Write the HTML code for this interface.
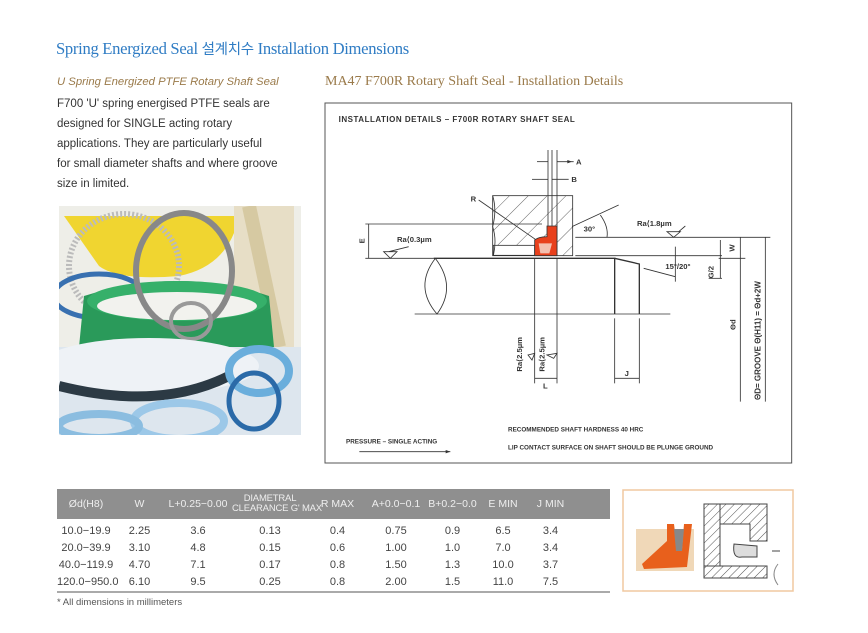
<!DOCTYPE html>
<html><head><meta charset="utf-8"><style>
body{margin:0;width:868px;height:633px;background:#fff;position:relative;overflow:hidden;font-family:"Liberation Sans","Noto Sans CJK KR",sans-serif}
.a{position:absolute;white-space:nowrap}
.p{font-size:11.5px;color:#333;left:57px}
table{border-collapse:collapse;table-layout:fixed}
td{padding:0}
</style></head><body>
<div class="a" style="left:56px;top:38px;font:16.6px 'Liberation Serif','Noto Serif CJK SC',serif;color:#2f7cc4;letter-spacing:-0.3px">Spring Energized Seal <span style="font-family:'Noto Sans CJK KR',sans-serif;font-size:14.5px">설계치수</span> Installation Dimensions</div>
<div class="a" style="left:57px;top:76px;font:italic 11.3px 'Liberation Sans',sans-serif;color:#9a7a4a">U Spring Energized PTFE Rotary Shaft Seal</div>
<div class="a p" style="top:98px">F700 'U' spring energised PTFE seals are</div>
<div class="a p" style="top:118px">designed for SINGLE acting rotary</div>
<div class="a p" style="top:138px">applications. They are particularly useful</div>
<div class="a p" style="top:158px">for small diameter shafts and where groove</div>
<div class="a p" style="top:178px">size in limited.</div>
<div class="a" style="left:325px;top:74px;font:14px 'Liberation Serif',serif;color:#9a7a4a">MA47 F700R Rotary Shaft Seal - Installation Details</div>

<svg class="a" style="left:59px;top:206px" width="242" height="229" viewBox="0 0 242 229">
<rect width="242" height="141" fill="#eeeee8"/>
<path d="M5 10 H180 Q170 60 120 70 Q60 75 40 60 Z" fill="#f0d530"/>
<ellipse cx="65" cy="60" rx="55" ry="52" fill="none" stroke="#bbb" stroke-width="6" stroke-dasharray="2 2"/>
<rect x="175" y="0" width="60" height="141" fill="#e7dec6"/>
<path d="M190 0 L220 141" stroke="#d6c9a2" stroke-width="14"/>
<ellipse cx="40" cy="90" rx="45" ry="22" fill="none" stroke="#3870b0" stroke-width="5"/>
<path d="M20 141 L25 90 Q120 60 210 90 L215 141 Z" fill="#2a9a5a"/>
<ellipse cx="118" cy="95" rx="90" ry="20" fill="#36b06a"/>
<ellipse cx="118" cy="100" rx="80" ry="14" fill="#f2f2ee"/>
<ellipse cx="125" cy="65" rx="48" ry="58" fill="none" stroke="#888" stroke-width="6"/>
<ellipse cx="132" cy="115" rx="20" ry="18" fill="none" stroke="#999" stroke-width="4"/>
<rect y="141" width="242" height="88" fill="#dde6ee"/>
<ellipse cx="90" cy="160" rx="110" ry="28" fill="#eef2f6"/>
<path d="M0 180 Q100 205 170 170" stroke="#2c3a44" stroke-width="10" fill="none"/>
<ellipse cx="200" cy="165" rx="30" ry="22" fill="none" stroke="#6aaedc" stroke-width="8"/>
<ellipse cx="195" cy="195" rx="25" ry="28" fill="none" stroke="#2a6aa8" stroke-width="5"/>
<ellipse cx="120" cy="215" rx="45" ry="18" fill="none" stroke="#9cc8e8" stroke-width="8"/>
<ellipse cx="40" cy="220" rx="40" ry="12" fill="none" stroke="#8bbde0" stroke-width="8"/>
</svg>

<svg class="a" style="left:322px;top:100px" width="472" height="365" viewBox="0 0 1416 1095" font-family="Liberation Sans,sans-serif">
<defs><pattern id="h" width="40" height="40" patternUnits="userSpaceOnUse" patternTransform="rotate(45)"><line x1="0" y1="0" x2="0" y2="40" stroke="#444" stroke-width="2.5"/></pattern></defs>
<rect x="9" y="9" width="1400" height="1080" fill="#fff" stroke="#555" stroke-width="3"/>
<text x="50" y="66" font-size="24" font-weight="bold" fill="#333" letter-spacing="1.5">INSTALLATION DETAILS – F700R ROTARY SHAFT SEAL</text>
<g stroke="#333" stroke-width="2.5" fill="none">
<rect x="512" y="287" width="240" height="180" fill="url(#h)"/>
<rect x="514" y="436" width="124" height="30" fill="#fff" stroke="#333"/>
<path d="M512 287 Q525 330 512 380 Q525 420 514 467"/>
<line x1="705" y1="287" x2="705" y2="467"/>
<line x1="678" y1="150" x2="678" y2="420"/><line x1="690" y1="150" x2="690" y2="380"/><line x1="705" y1="150" x2="705" y2="287"/>
<path d="M638 467 V420 Q650 410 675 410 V378 H705 V467 Z" fill="#e8401c"/>
<path d="M650 430 H690 L682 460 H655 Z" fill="#f3c0b0" stroke="none"/>
<line x1="335" y1="475" x2="880" y2="475" stroke-width="4"/>
<path d="M878 475 L952 492 V642 M878 475 V642" stroke-width="4"/>
<line x1="278" y1="642" x2="1045" y2="642"/>
<path d="M340 475 Q275 560 345 642 Q405 560 340 475"/>
<line x1="130" y1="372" x2="660" y2="372"/>
<line x1="130" y1="475" x2="335" y2="475"/>
<line x1="140" y1="372" x2="140" y2="475"/>
<line x1="760" y1="412" x2="1345" y2="412"/>
<line x1="760" y1="467" x2="1200" y2="467"/>
<line x1="1190" y1="475" x2="1270" y2="475"/>
<line x1="1160" y1="535" x2="1200" y2="535"/>
<line x1="1195" y1="420" x2="1195" y2="535"/>
<line x1="1255" y1="412" x2="1255" y2="905"/>
<line x1="1330" y1="412" x2="1330" y2="905"/>
<line x1="638" y1="475" x2="638" y2="850"/><line x1="705" y1="475" x2="705" y2="850"/>
<line x1="638" y1="835" x2="705" y2="835"/>
<line x1="878" y1="655" x2="878" y2="850"/><line x1="952" y1="655" x2="952" y2="850"/>
<line x1="878" y1="835" x2="952" y2="835"/>
<line x1="645" y1="185" x2="678" y2="185"/><line x1="705" y1="185" x2="755" y2="185"/>
<line x1="630" y1="238" x2="678" y2="238"/><line x1="690" y1="238" x2="740" y2="238"/>
<line x1="470" y1="300" x2="640" y2="418"/>
<line x1="750" y1="380" x2="890" y2="315"/>
<path d="M835 345 Q860 380 855 412"/>
<line x1="965" y1="505" x2="1060" y2="530"/>
<line x1="1060" y1="440" x2="1060" y2="545"/>
<path d="M185 455 L205 475 L225 455 Z M200 455 L260 440"/>
<path d="M1035 395 L1055 412 L1075 395 Z M1070 395 L1090 378"/>
<path d="M618 765 L630 780 L638 760 Z M675 765 L695 775 L705 760 Z"/>
<line x1="112" y1="1055" x2="385" y2="1055"/>
</g>
<path d="M385 1055 l-14 -5 v10 z M750 185 l-14 -5 v10z" fill="#333"/>
<g font-size="23" fill="#333" font-weight="bold">
<text x="762" y="193">A</text><text x="748" y="246">B</text><text x="446" y="305">R</text>
<text x="785" y="395">30°</text><text x="945" y="378">Ra⟨1.8µm</text>
<text x="225" y="426">Ra⟨0.3µm</text><text x="1030" y="507">15°/20°</text>
<text x="663" y="865">L</text><text x="908" y="828">J</text>
<text transform="translate(128,430) rotate(-90)">E</text>
<text transform="translate(1238,455) rotate(-90)">W</text>
<text transform="translate(1175,535) rotate(-90)">G/2</text>
<text transform="translate(1240,690) rotate(-90)">Θd</text>
<text transform="translate(1315,900) rotate(-90)" font-size="24">ΘD= GROOVE  Θ(H11) = Θd+2W</text>
<text transform="translate(600,815) rotate(-90)">Ra⟨2.5µm</text>
<text transform="translate(668,815) rotate(-90)">Ra⟨2.5µm</text>
<text x="558" y="995" font-size="19">RECOMMENDED SHAFT HARDNESS 40 HRC</text>
<text x="558" y="1048" font-size="19">LIP CONTACT SURFACE ON SHAFT SHOULD BE PLUNGE GROUND</text>
<text x="72" y="1030" font-size="19">PRESSURE – SINGLE ACTING</text>
</g>
</svg>

<div class="a" style="left:57px;top:489px;width:553px">
<table style="width:553px;font-size:11px;color:#444">
<colgroup><col style="width:58px"><col style="width:49px"><col style="width:68px"><col style="width:76px"><col style="width:59px"><col style="width:58px"><col style="width:55px"><col style="width:46px"><col style="width:49px"><col style="width:35px"></colgroup>
<tr style="background:#8f8f8f;color:#eee;height:30px;text-align:center;font-size:10.5px;line-height:10px">
<td>Ød(H8)</td><td>W</td><td>L+0.25−0.00</td><td style="font-size:9.5px;letter-spacing:-0.2px">DIAMETRAL<br>CLEARANCE G' MAX</td><td>R MAX</td><td>A+0.0−0.1</td><td>B+0.2−0.0</td><td>E MIN</td><td>J MIN</td><td></td></tr>
<tr><td colspan="10" style="height:4px"></td></tr>
<tr style="text-align:center;line-height:17px"><td>10.0−19.9</td><td>2.25</td><td>3.6</td><td>0.13</td><td>0.4</td><td>0.75</td><td>0.9</td><td>6.5</td><td>3.4</td><td></td></tr>
<tr style="text-align:center;line-height:17px"><td>20.0−39.9</td><td>3.10</td><td>4.8</td><td>0.15</td><td>0.6</td><td>1.00</td><td>1.0</td><td>7.0</td><td>3.4</td><td></td></tr>
<tr style="text-align:center;line-height:17px"><td>40.0−119.9</td><td>4.70</td><td>7.1</td><td>0.17</td><td>0.8</td><td>1.50</td><td>1.3</td><td>10.0</td><td>3.7</td><td></td></tr>
<tr style="text-align:center;line-height:17px;border-bottom:2px solid #aaa"><td>120.0−950.0</td><td>6.10</td><td>9.5</td><td>0.25</td><td>0.8</td><td>2.00</td><td>1.5</td><td>11.0</td><td>7.5</td><td></td></tr>
</table>
<div style="font-size:9.5px;color:#555;margin-top:4px">* All dimensions in millimeters</div>
</div>

<svg class="a" style="left:622px;top:489px" width="172" height="103" viewBox="0 0 172 103">
<defs><pattern id="hh" width="6" height="6" patternUnits="userSpaceOnUse" patternTransform="rotate(45)"><line x1="0" y1="0" x2="0" y2="6" stroke="#555"/></pattern></defs>
<rect x="1" y="1" width="170" height="101" fill="#fff" stroke="#f0c8a0" stroke-width="1.5"/>
<rect x="14" y="40" width="58" height="42" fill="#f0d8b8"/>
<path d="M20 75 L45 52 L45 35 L52 35 L55 60 L60 60 L62 35 L70 35 L65 78 L22 80 Z" fill="#e8601c"/>
<path d="M52 40 L62 40 L60 62 L54 62 Z" fill="#888"/>
<g stroke="#444" fill="url(#hh)">
<rect x="82" y="15" width="16" height="62"/>
<path d="M98 15 H145 V52 H128 V35 H98 Z"/>
<rect x="82" y="77" width="63" height="12"/>
</g>
<path d="M112 55 Q110 70 120 68 H135 V57 Z" fill="#ddd" stroke="#444"/>
<path d="M156 75 Q148 85 156 96" stroke="#888" fill="none"/>
<line x1="150" y1="62" x2="158" y2="62" stroke="#444"/>
</svg>
</body></html>
